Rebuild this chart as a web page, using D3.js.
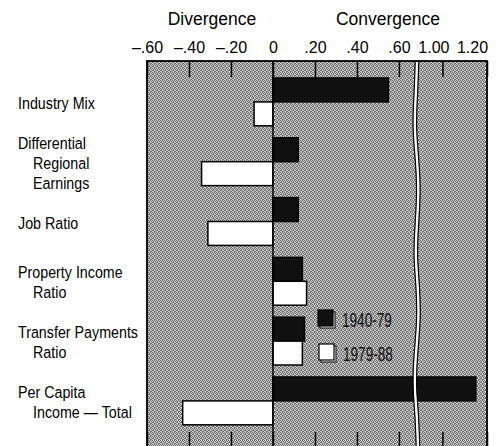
<!DOCTYPE html>
<html>
  <head>
    <style type="text/css">
        body { margin: 0; background: #fff; }
        svg { display: block; }
        .cat { font-family: "Liberation Sans", Arial, sans-serif; font-size: 17px; fill: #000; }
        .head { font-family: "Liberation Sans", Arial, sans-serif; font-size: 17.5px; }
        .tick text { font-family: "Liberation Sans", Arial, sans-serif; font-size: 16px; fill: #000; }
        .leg { font-family: "Liberation Sans", Arial, sans-serif; font-size: 20px; fill: #111; }
    </style>
  </head>
  <body>
    <svg width="502" height="446"></svg>
    <script src="https://cdn.jsdelivr.net/npm/d3@7"></script>
    <script>

    // Data
    var categories = ["Industry Mix", "Differential Regional Earnings", "Job Ratio",
                      "Property Income Ratio", "Transfer Payments Ratio", "Per Capita Income \u2014 Total"];
    var categoryLines = [["Industry Mix"], ["Differential", "Regional", "Earnings"], ["Job Ratio"],
                         ["Property Income", "Ratio"], ["Transfer Payments", "Ratio"], ["Per Capita", "Income \u2014 Total"]];
    var periods = ["1940-79", "1979-88"];
    var values1940 = [0.55, 0.12, 0.12, 0.14, 0.15, 1.15];
    var values1979 = [-0.09, -0.34, -0.31, 0.16, 0.14, -0.43];
    var tickValues = [-0.6, -0.4, -0.2, 0, 0.2, 0.4, 0.6, 1.0, 1.2];
    var tickLabels = ["\u2013.60", "\u2013.40", "\u2013.20", "0", ".20", ".40", ".60", "1.00", "1.20"];

    var svg = d3.select("svg");

    var plotTop = 61, plotBottom = 448, plotLeft = 147, plotRight = 487, breakX = 417;

    // Broken axis: the part between .686 and .886 is cut out
    var x = d3.scaleLinear()
        .domain([-0.6, 0.686, 0.886, 1.2])
        .range([plotLeft, breakX, breakX, plotRight]);

    var y = d3.scaleBand()
        .domain(categories)
        .range([72, 72 + 59.8 * 6])
        .paddingInner(0.2)
        .paddingOuter(0.1);

    var ySub = d3.scaleBand()
        .domain(periods)
        .range([0, y.bandwidth()]);

    var colors = d3.scaleOrdinal().domain(periods).range(["#111", "#fff"]);

    // Halftone look of the plot background
    var defs = svg.append("defs");
    var pat = defs.append("pattern")
        .attr("id", "halftone")
        .attr("width", 4).attr("height", 4)
        .attr("patternUnits", "userSpaceOnUse");
    pat.append("rect").attr("width", 4).attr("height", 4).attr("fill", "#cccccc");
    [[0, 0], [2, 0], [1, 1], [3, 1], [0, 2], [2, 3], [3, 3], [1, 2]].forEach(function(p) {
        pat.append("rect").attr("x", p[0]).attr("y", p[1])
            .attr("width", 1).attr("height", 1).attr("fill", "#6e6e6e");
    });

    svg.append("rect")
        .attr("x", plotLeft).attr("y", plotTop)
        .attr("width", plotRight - plotLeft).attr("height", plotBottom - plotTop)
        .attr("fill", "url(#halftone)");

    // Headings
    svg.append("text").attr("class", "head")
        .attr("x", 212).attr("y", 25).attr("text-anchor", "middle").text("Divergence");
    svg.append("text").attr("class", "head")
        .attr("x", 388).attr("y", 25).attr("text-anchor", "middle").text("Convergence");

    // Top axis with labels, ticks pointing into the plot
    var topAxis = svg.append("g")
        .attr("transform", "translate(0," + plotTop + ")")
        .call(d3.axisTop(x)
            .tickValues(tickValues)
            .tickFormat(function(d, i) { return tickLabels[i]; })
            .tickSizeInner(-16)
            .tickSizeOuter(0)
            .tickPadding(8));
    topAxis.select(".domain").remove();
    topAxis.selectAll(".tick line").attr("stroke", "#000").attr("stroke-width", 1.5);
    topAxis.selectAll(".tick text")
        .attr("dx", function(d) { return d == 1.0 ? -9 : d == 1.2 ? -15 : 0; });

    // Bottom ticks
    var bottomAxis = svg.append("g")
        .attr("transform", "translate(0," + plotBottom + ")")
        .call(d3.axisBottom(x)
            .tickValues(tickValues)
            .tickFormat("")
            .tickSizeInner(-16)
            .tickSizeOuter(0));
    bottomAxis.select(".domain").remove();
    bottomAxis.selectAll(".tick line").attr("stroke", "#000").attr("stroke-width", 1.5);

    // Bars
    var rows = categories.map(function(c, i) {
        return [{ cat: c, period: periods[0], value: values1940[i] },
                { cat: c, period: periods[1], value: values1979[i] }];
    });

    svg.append("g").selectAll("g")
        .data(rows)
        .join("g")
        .attr("transform", function(d) { return "translate(0," + y(d[0].cat) + ")"; })
        .selectAll("rect")
        .data(function(d) { return d; })
        .join("rect")
        .attr("x", function(d) { return x(Math.min(0, d.value)); })
        .attr("y", function(d) { return ySub(d.period); })
        .attr("width", function(d) { return Math.abs(x(d.value) - x(0)); })
        .attr("height", ySub.bandwidth())
        .attr("fill", function(d) { return colors(d.period); })
        .attr("stroke", "#000")
        .attr("stroke-width", 1.5);

    // Zero line
    svg.append("line")
        .attr("x1", x(0)).attr("x2", x(0))
        .attr("y1", plotTop).attr("y2", plotBottom)
        .attr("stroke", "#000").attr("stroke-width", 1.5);

    // Axis break: two wavy lines with a white gap
    var wave = [0, -1, -3, 0, 2, 0, -2, 1, 2, -1, -3, 0, 1];
    var waveLine = d3.line()
        .x(function(d) { return breakX + d; })
        .y(function(d, i) { return plotTop + i * (plotBottom - plotTop) / (wave.length - 1); })
        .curve(d3.curveBasis);
    svg.append("path").attr("d", waveLine(wave))
        .attr("fill", "none").attr("stroke", "#fff").attr("stroke-width", 3);
    [-1.8, 1.8].forEach(function(off) {
        svg.append("path")
            .attr("d", waveLine(wave))
            .attr("transform", "translate(" + off + ",0)")
            .attr("fill", "none").attr("stroke", "#000").attr("stroke-width", 1.2);
    });

    // Frame
    svg.append("rect")
        .attr("x", plotLeft).attr("y", plotTop)
        .attr("width", plotRight - plotLeft).attr("height", plotBottom - plotTop)
        .attr("fill", "none").attr("stroke", "#000").attr("stroke-width", 1.8);

    // Category labels in a condensed face, continuation lines indented
    var labelLines = [];
    categories.forEach(function(c, i) {
        var lines = categoryLines[i];
        var mid = y(c) + y.bandwidth() / 2;
        lines.forEach(function(line, j) {
            labelLines.push({ text: line, x: j == 0 ? 18 : 33, y: mid + 7 - 10 * (lines.length - 1) + 20 * j });
        });
    });
    svg.append("g").selectAll("text")
        .data(labelLines)
        .join("text")
        .attr("class", "cat")
        .attr("transform", function(d) { return "translate(" + d.x + "," + d.y + ") scale(0.84,1)"; })
        .text(function(d) { return d.text; });

    // Legend
    var legend = svg.append("g")
        .attr("transform", "translate(318,310)")
        .selectAll("g")
        .data(periods)
        .join("g")
        .attr("transform", function(d, i) { return "translate(" + i + "," + i * 34 + ")"; });

    legend.append("rect")
        .attr("x", 2).attr("y", 2).attr("width", 15).attr("height", 16)
        .attr("fill", "#fff").attr("stroke", "#222").attr("stroke-width", 1.2);
    legend.append("rect")
        .attr("width", 15).attr("height", 16)
        .attr("fill", function(d) { return colors(d); })
        .attr("stroke", "#000").attr("stroke-width", 1.2);
    legend.append("text")
        .attr("class", "leg")
        .attr("transform", "translate(24,17) scale(0.68,1)")
        .text(function(d) { return d; });

    </script>
  </body>
</html>
